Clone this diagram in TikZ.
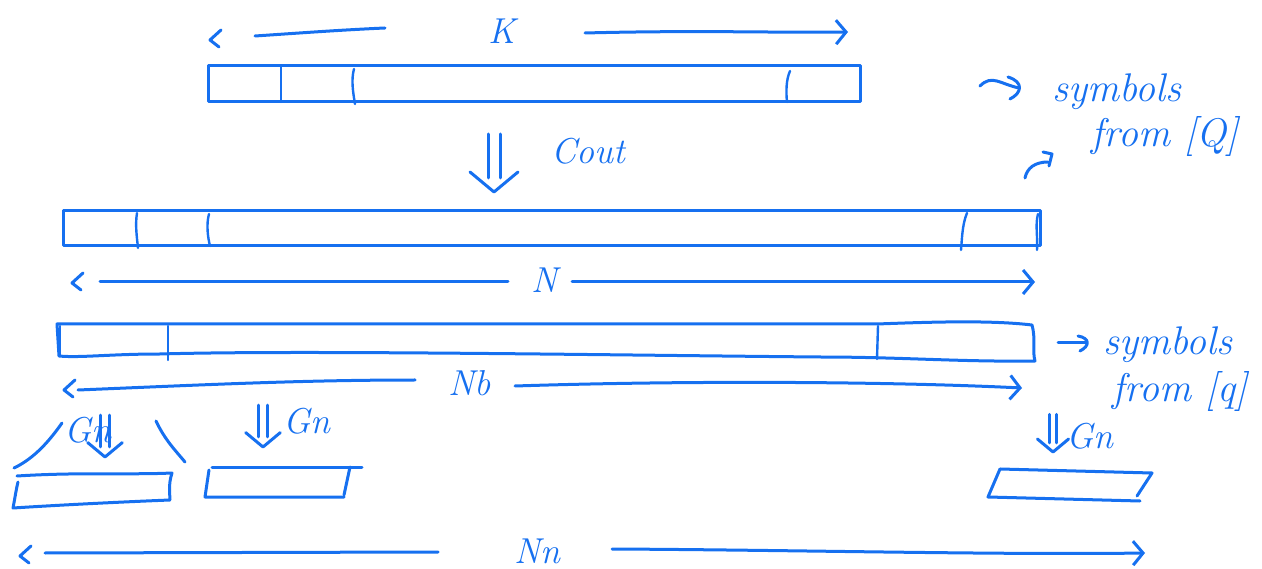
\documentclass[tikz,border=0pt]{standalone}
\usetikzlibrary{arrows.meta}
\definecolor{ink}{RGB}{22,112,240}
\tikzset{
  pen/.style={draw=ink, line width=3pt, line cap=round, line join=round},
  thin pen/.style={draw=ink, line width=2.4pt, line cap=round, line join=round},
  lbl/.style={text=ink, inner sep=0pt, font=\fontsize{36}{38}\selectfont\itshape},
  note/.style={text=ink, inner sep=0pt, font=\fontsize{40}{42}\selectfont\itshape},
  headR/.style={-{Straight Barb[length=10pt,width=24pt]}},
  pics/dbldown/.style={code={
    \draw[pen] (-6,-58) -- (-6,-14);
    \draw[pen] (6,-58) -- (6,-14);
    \draw[pen] (-24,-20) -- (0,0) -- (24,-20);
  }},
  pics/lefttip/.style={code={
    \draw[pen] (11,-10) -- (0,0) -- (9,7);
  }}
}
\begin{document}
\begin{tikzpicture}[x=1pt,y=-1pt]
\useasboundingbox (0,0) rectangle (1262,569);

% ---------- message of length K ----------
\pic at (210,40) {lefttip};
\coordinate (k0) at (255,36);
\coordinate (k1) at (385,28);
\node[lbl] (labK) at (502,31) {K};
\coordinate (k2) at (585,33);
\coordinate (k3) at (848,32);
\draw[pen] (k0) .. controls (300,33) and (340,30) .. (k1);
\draw[pen,headR] (k2) .. controls (700,30) and (780,33) .. (k3);

\draw[pen] (208,66) rectangle (860,102);
\draw[thin pen] (281,66) -- (281,102);
\draw[thin pen] (354,69) .. controls (351,80) and (353,92) .. (355,104);
\draw[thin pen] (790,71) .. controls (786,80) and (786,92) .. (787,102);

% ---------- outer code ----------
\pic at (494,192) {dbldown};
\node[lbl] (labCout) at (588,151) {Cout};

% ---------- codeword of length N ----------
\draw[pen] (63,211) rectangle (1040,246);
\draw[thin pen] (137,213) .. controls (135,225) and (137,238) .. (138,248);
\draw[thin pen] (209,214) .. controls (206,225) and (208,238) .. (210,246);
\draw[thin pen] (967,213) .. controls (962,225) and (962,240) .. (961,250);
\draw[thin pen] (1038,214) .. controls (1035,225) and (1038,238) .. (1037,250);

\pic at (72,283) {lefttip};
\coordinate (n0) at (100,282);
\coordinate (n1) at (508,282);
\node[lbl] (labN) at (545,280) {N};
\coordinate (n2) at (572,282);
\coordinate (n3) at (1035,282);
\draw[pen] (n0) -- (n1);
\draw[pen,headR] (n2) -- (n3);

% ---------- symbols from [Q] ----------
\coordinate (sq0) at (980,86);
\coordinate (sq1) at (1019,88);
\draw[pen] (sq0) .. controls (992,74) and (1000,84) .. (sq1);
\draw[pen] (1008,77) .. controls (1024,82) and (1022,93) .. (1010,99);
\node[note] (symQ) at (1117,92) {symbols};
\node[note] (fromQ) at (1165,137) {from [Q]};
\coordinate (up0) at (1025,178);
\coordinate (up1) at (1052,154);
\draw[pen] (up0) .. controls (1027,168) and (1035,162) .. (1048,162);
\draw[pen] (1043,152) -- (up1) -- (1049,166);

% ---------- codeword of length Nb ----------
\draw[pen] (57,324) -- (877,324) .. controls (930,322) and (990,320) .. (1032,325)
  .. controls (1036,340) and (1032,350) .. (1035,361)
  .. controls (960,362) and (900,357) .. (820,357)
  .. controls (600,355) and (300,350) .. (160,354)
  .. controls (110,354) and (80,358) .. (59,356) -- cycle;
\draw[thin pen] (60,326) -- (60,355);
\draw[thin pen] (168,326) -- (168,360);
\draw[thin pen] (878,326) -- (877,359);

\pic at (64,390) {lefttip};
\coordinate (b0) at (78,390);
\coordinate (b1) at (415,380);
\node[lbl] (labNb) at (470,383) {Nb};
\coordinate (b2) at (515,386);
\coordinate (b3) at (1022,388);
\draw[pen] (b0) .. controls (200,385) and (300,380) .. (b1);
\draw[pen,headR] (b2) .. controls (700,380) and (900,382) .. (b3);

% ---------- symbols from [q] ----------
\coordinate (sr0) at (1058,343);
\coordinate (sr1) at (1086,343);
\draw[pen] (sr0) -- (sr1);
\draw[pen] (1078,336) .. controls (1090,338) and (1090,346) .. (1080,351);
\node[note] (symq) at (1168,345) {symbols};
\node[note] (fromq) at (1180,392) {from [q]};

% ---------- inner blocks ----------
% first block with its brace
\draw[pen] (17,476) .. controls (80,472) and (130,475) .. (172,473)
  .. controls (168,485) and (170,495) .. (170,500)
  .. controls (120,502) and (60,505) .. (13,508)
  .. controls (15,498) and (16,490) .. (18,482);
\draw[pen] (14,468) .. controls (35,458) and (50,440) .. (62,423);
\draw[pen] (156,421) .. controls (165,440) and (175,450) .. (185,462);
\pic[scale=0.72] at (105,457) {dbldown};
\node[lbl] (labG1) at (88,430) {Gn};

% second block
\draw[pen] (212,467) -- (362,467);
\draw[pen] (209,470) -- (205,497) -- (344,497);
\draw[pen] (350,467) -- (344,495);
\pic[scale=0.72] at (263,447) {dbldown};
\node[lbl] (labG2) at (307,421) {Gn};

% last block
\draw[pen] (1000,469) -- (1152,473) -- (1137,496);
\draw[pen] (1000,469) -- (988,497) -- (1140,501);
\pic[scale=0.65] at (1053,452) {dbldown};
\node[lbl] (labG3) at (1090,436) {Gn};

% ---------- overall length Nn ----------
\pic at (20,556) {lefttip};
\coordinate (m0) at (45,553);
\coordinate (m1) at (438,552);
\node[lbl] (labNn) at (537,551) {Nn};
\coordinate (m2) at (612,549);
\coordinate (m3) at (1145,553);
\draw[pen] (m0) -- (m1);
\draw[pen,headR] (m2) .. controls (800,550) and (1000,555) .. (m3);
\end{tikzpicture}
\end{document}
